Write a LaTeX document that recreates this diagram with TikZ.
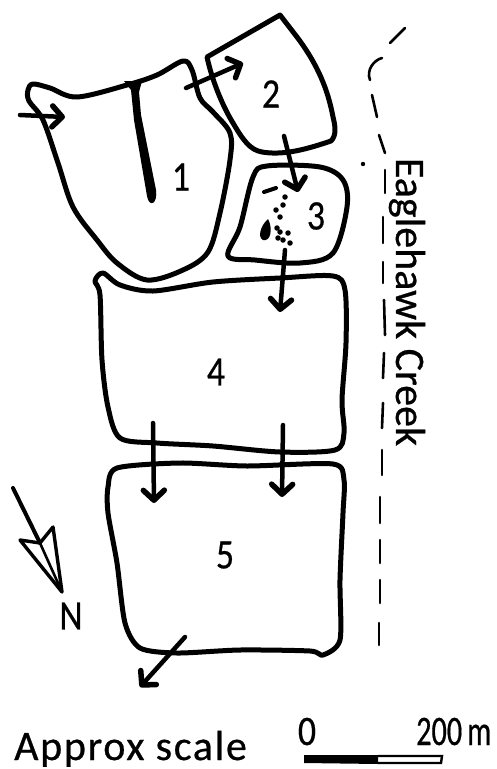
\documentclass[tikz,border=0pt]{standalone}
\usepackage{fontspec}
\usepackage{graphicx}
\setmainfont{Carlito}
\usetikzlibrary{arrows.meta}
\tikzset{
 field/.style={line width=5pt,line join=round,line cap=round},
 flow/.style={line width=4.5pt,line cap=round,-{Straight Barb[length=10pt,width=21pt,line width=5.5pt,round]}},
 creek/.style={line width=2.6pt,line cap=round},
 num/.style={font=\fontsize{42}{42}\selectfont\addfontfeature{FakeBold=.6},inner sep=0pt},
 lbl/.style={inner sep=0pt,font=\fontsize{42}{42}\selectfont\addfontfeature{FakeBold=.6}},
 pond/.style={fill=black,circle,inner sep=0pt,minimum size=5.5pt}
}
\newcommand{\nar}[1]{\scalebox{.85}[1]{#1}}
\begin{document}
\begin{tikzpicture}[x=1pt,y=-1pt]
\useasboundingbox (0,0) rectangle (496,769);
% fields
\draw[field] plot[smooth cycle,tension=.55] coordinates {(28,90)(33,84)(50,88)(77,97)(127,85)(157,75)(183,61)(192,70)(200,98)(213,112)(230,133)(230,160)(220,213)(208,252)(183,270)(147,280)(117,263)(97,240)(73,207)(58,163)(43,120)(29,101)};
\draw[field] (280,15) -- (207,57) .. controls (212,80) and (222,105) .. (233,123) .. controls (243,140) and (250,150) .. (262,152) .. controls (285,156) and (310,148) .. (331,141) .. controls (337,135) and (335,125) .. (333,117) .. controls (328,90) and (318,65) .. (297,37) -- cycle;
\draw[field] plot[smooth cycle,tension=.55] coordinates {(267,166)(320,167)(343,180)(347,207)(333,253)(300,263)(255,260)(228,256)(240,227)(253,177)};
\draw[field] plot[smooth cycle,tension=.5] coordinates {(95,281)(103,273)(120,285)(153,291)(213,282)(280,278)(333,276)(345,290)(346,343)(342,400)(344,433)(335,450)(280,452)(213,446)(157,443)(120,438)(108,407)(102,360)(100,295)};
\draw[field] plot[smooth cycle,tension=.45] coordinates {(108,487)(117,468)(180,463)(247,466)(333,464)(344,480)(343,513)(340,580)(340,640)(323,655)(310,651)(240,650)(177,653)(140,648)(125,623)(117,563)(108,513)};
% central drain
\fill (124,81) -- (142,81) -- (139,92) -- (141,115) -- (156,190) .. controls (158,204) and (149,208) .. (147,196) -- (134,120) -- (131,90) -- cycle;
% arrows
\coordinate (a1) at (20,115); \coordinate (a1e) at (65,117);
\coordinate (a2) at (186,88); \coordinate (a2e) at (243,63);
\coordinate (a3) at (284,136); \coordinate (a3e) at (298,192);
\coordinate (a4) at (285,250); \coordinate (a4e) at (280,312);
\coordinate (a5) at (153,423); \coordinate (a5e) at (154,503);
\coordinate (a6) at (283,425); \coordinate (a6e) at (282,497);
\coordinate (a7) at (185,637); \coordinate (a7e) at (140,687);
\foreach \s/\e in {a1/a1e,a2/a2e,a3/a3e,a4/a4e,a5/a5e,a6/a6e,a7/a7e} \draw[flow] (\s) -- (\e);
% ponds in field 3
\draw[line width=4pt,line cap=round] (264,192) -- (276,188);
\foreach \px/\py in {285/197,283/205,276/210,280/217,277/228,280/232,288/233,278/238,283/240,290/243} \node[pond] at (\px,\py) {};
\fill (268,219) .. controls (261,225) and (257,237) .. (263,240) .. controls (271,242) and (273,228) .. (268,219) -- cycle;
% creek
\foreach \ax/\ay/\bx/\by in {405/28/390/43,372/95/377/117,379/135/385/153,385/170/385/193,383/217/383/243,383/262/383/283,384/300/385/335,384/353/383/378,383/403/382/428,382/450/382/475,380/497/380/523,380/540/380/563,380/580/380/603,379/623/379/645} \draw[creek] (\ax,\ay) -- (\bx,\by);
\draw[creek] (382,58) .. controls (374,60) and (366,70) .. (370,80);
\fill (363,164) circle (2.2pt);
% north arrow
\coordinate (nt) at (13,488); \coordinate (nn) at (40,543); \coordinate (ntip) at (62,592);
\draw[line width=4pt,line cap=round] (nt) -- (nn);
\draw[line width=3.4pt,line join=round] (nn) -- (20,540) -- (ntip) -- (53,527) -- cycle;
\draw[line width=2.6pt] (nn) -- (ntip);
% scale bar
\fill (304,755) -- (378,755) -- (378,764) -- (304,763) -- cycle;
\draw[line width=2.4pt] (378,756) -- (442,756) -- (441,763) -- (378,763);
% labels
\node[num] (n1) at (181,177) {\nar{1}};
\node[num] (n2) at (271,94) {\nar{2}};
\node[num] (n3) at (316,216) {\nar{3}};
\node[num] (n4) at (216,372) {\nar{4}};
\node[num] (n5) at (225,555) {\nar{5}};
\node[num] (nN) at (71,616) {\nar{N}};
\node[lbl,rotate=-90] (ck) at (407,302) {Eaglehawk Creek};
\node[lbl,anchor=base west] (sc) at (14,760) {\addfontfeature{LetterSpace=4}Approx scale};
\node[num,anchor=base] (s0) at (307,745) {\nar{0}};
\node[lbl,anchor=base west] (s2) at (416,745) {\scalebox{.72}[1]{200\,m}};
\end{tikzpicture}
\end{document}
